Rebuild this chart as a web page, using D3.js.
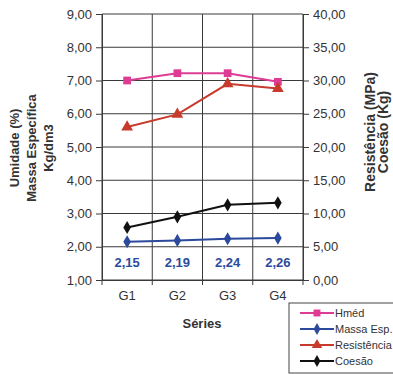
<!DOCTYPE html>
<html>
<head>
<meta charset="utf-8">
<style>
  body { margin: 0; background: #fff; }
  text { font-family: "Liberation Sans", Arial, sans-serif; }
</style>
<script src="https://d3js.org/d3.v7.min.js"></script>
</head>
<body>
<svg width="393" height="374"></svg>
<script>

var series = ["G1", "G2", "G3", "G4"];
var hmed = [7.00, 7.22, 7.22, 6.96];
var massaEsp = [2.15, 2.19, 2.24, 2.26];
var resistencia = [23.0, 24.9, 29.5, 28.8];
var coesao = [7.9, 9.5, 11.3, 11.6];
var leftTicks = [1, 2, 3, 4, 5, 6, 7, 8, 9];
var rightTicks = [0, 5, 10, 15, 20, 25, 30, 35, 40];

var svg = d3.select("svg"),
    margin = {top: 14, left: 102, right: 303, bottom: 280};

var fmt = function(d) { return d.toFixed(2).replace(".", ","); };

var x = d3.scaleBand().domain(series).range([margin.left, margin.right]),
    yL = d3.scaleLinear().domain([1, 9]).range([margin.bottom, margin.top]),
    yR = d3.scaleLinear().domain([0, 40]).range([margin.bottom, margin.top]);

var gridColor = "#3a3a3a";

// horizontal grid
svg.append("g").selectAll("line")
  .data(leftTicks)
  .enter().append("line")
    .attr("x1", margin.left).attr("x2", margin.right)
    .attr("y1", function(d) { return yL(d); })
    .attr("y2", function(d) { return yL(d); })
    .attr("stroke", gridColor).attr("stroke-width", 1);

// vertical grid at band edges
var edges = series.map(function(s) { return x(s); }).concat([margin.right]);
svg.append("g").selectAll("line")
  .data(edges)
  .enter().append("line")
    .attr("x1", function(d) { return d; }).attr("x2", function(d) { return d; })
    .attr("y1", margin.top).attr("y2", margin.bottom + 5)
    .attr("stroke", gridColor).attr("stroke-width", 1);

// axes
var axL = svg.append("g")
    .attr("transform", "translate(" + margin.left + ",0)")
    .call(d3.axisLeft(yL).tickValues(leftTicks).tickFormat(fmt).tickSize(6).tickPadding(4));
var axR = svg.append("g")
    .attr("transform", "translate(" + margin.right + ",0)")
    .call(d3.axisRight(yR).tickValues(rightTicks).tickFormat(fmt).tickSize(6).tickPadding(4));
var axB = svg.append("g")
    .attr("transform", "translate(0," + margin.bottom + ")")
    .call(d3.axisBottom(x).tickSize(0).tickPadding(11));

[axL, axR, axB].forEach(function(a) {
  a.select(".domain").attr("stroke", gridColor);
  a.selectAll(".tick line").attr("stroke", gridColor);
  a.selectAll("text").attr("fill", "#333").attr("font-size", 13)
    .attr("font-family", "Liberation Sans, Arial, sans-serif");
});

var cx = function(d, i) { return x(series[i]) + x.bandwidth() / 2; };

var defs = [
  {name: "Hméd", data: hmed, scale: yL, color: "#de3b95", shape: d3.symbolSquare, size: 60},
  {name: "Massa Esp.", data: massaEsp, scale: yL, color: "#2c4a9c", shape: d3.symbolDiamond, size: 50},
  {name: "Resistência", data: resistencia, scale: yR, color: "#c83a2c", shape: d3.symbolTriangle, size: 60},
  {name: "Coesão", data: coesao, scale: yR, color: "#111", shape: d3.symbolDiamond, size: 50}
];

defs.forEach(function(s) {
  svg.append("path")
    .datum(s.data)
    .attr("fill", "none")
    .attr("stroke", s.color)
    .attr("stroke-width", 2)
    .attr("d", d3.line().x(cx).y(function(d) { return s.scale(d); }));
  svg.append("g").selectAll("path")
    .data(s.data)
    .enter().append("path")
      .attr("d", d3.symbol().type(s.shape).size(s.size))
      .attr("transform", function(d, i) { return "translate(" + cx(d, i) + "," + s.scale(d) + ")"; })
      .attr("fill", s.color);
});

// data labels for Massa Esp.
svg.append("g").selectAll("text")
  .data(massaEsp)
  .enter().append("text")
    .attr("x", cx)
    .attr("y", 267)
    .attr("text-anchor", "middle")
    .attr("font-size", 13)
    .attr("font-weight", "bold")
    .attr("fill", "#2c4a9c")
    .text(fmt);

// axis titles
var leftTitle = ["Umidade (%)", "Massa Específica", "Kg/dm3"];
leftTitle.forEach(function(t, i) {
  svg.append("text")
    .attr("transform", "translate(" + (19 + i * 17) + ",148) rotate(-90)")
    .attr("text-anchor", "middle")
    .attr("font-size", 13).attr("font-weight", "bold").attr("fill", "#333")
    .text(t);
});
var rightTitle = ["Resistência (MPa)", "Coesão (Kg)"];
rightTitle.forEach(function(t, i) {
  svg.append("text")
    .attr("transform", "translate(" + (375 + i * 13) + ",132) rotate(-90)")
    .attr("text-anchor", "middle")
    .attr("font-size", 14).attr("font-weight", "bold").attr("fill", "#333")
    .text(t);
});

svg.append("text")
  .attr("x", 202).attr("y", 328)
  .attr("text-anchor", "middle")
  .attr("font-size", 13).attr("font-weight", "bold").attr("fill", "#333")
  .text("Séries");

// legend
var lg = svg.append("g").attr("transform", "translate(289,303)");
lg.append("rect")
  .attr("width", 110).attr("height", 70)
  .attr("fill", "#fff").attr("stroke", "#444").attr("stroke-width", 1);
var item = lg.selectAll(".item")
  .data(defs)
  .enter().append("g")
    .attr("class", "item")
    .attr("transform", function(d, i) { return "translate(0," + (10 + i * 16) + ")"; });
item.append("line")
  .attr("x1", 11).attr("x2", 45)
  .attr("stroke", function(d) { return d.color; }).attr("stroke-width", 2);
item.append("path")
  .attr("d", function(d) { return d3.symbol().type(d.shape).size(d.size * 0.8)(); })
  .attr("transform", "translate(28,0)")
  .attr("fill", function(d) { return d.color; });
item.append("text")
  .attr("x", 46).attr("dy", "0.35em")
  .attr("font-size", 11).attr("fill", "#333")
  .text(function(d) { return d.name; });

</script>
</body>
</html>
